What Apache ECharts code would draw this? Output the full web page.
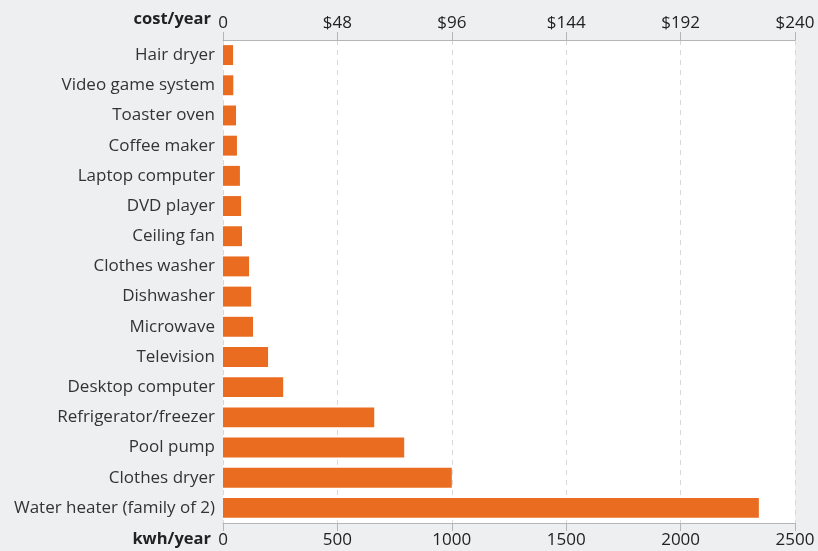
<!DOCTYPE html>
<html><head><meta charset="utf-8">
<script src="https://cdn.jsdelivr.net/npm/echarts@6/dist/echarts.min.js"></script>
<style>html,body{margin:0;padding:0;background:#eeeff1;}#c{width:818px;height:551px;}</style>
</head><body><div id="c"></div>
<script>
const categories = ["Hair dryer","Video game system","Toaster oven","Coffee maker","Laptop computer","DVD player","Ceiling fan","Clothes washer","Dishwasher","Microwave","Television","Desktop computer","Refrigerator/freezer","Pool pump","Clothes dryer","Water heater (family of 2)"];
const kwhValues = [44,45,57,61,74,79,83,114,123,131,197,263,661,792,1000,2342];
const kwhTicks = [0,500,1000,1500,2000,2500];
const costTicks = [0,48,96,144,192,240];
const axisTitles = ["cost/year","kwh/year"];

const chart = echarts.init(document.getElementById('c'));
const font = '"Open Sans", sans-serif';
chart.setOption({
  animation:false,
  backgroundColor:'#eeeff1',
  grid:{left:223,right:23,top:40,bottom:28,show:true,backgroundColor:'#ffffff',borderWidth:0,containLabel:false,outerBoundsMode:'none'},
  graphic:[
    {type:'text',right:818-211,top:11,style:{text:axisTitles[0],fill:'#222',font:'bold 16.5px "Open Sans", sans-serif',textAlign:'right'}},
    {type:'text',right:818-211,top:531,style:{text:axisTitles[1],fill:'#222',font:'bold 16.5px "Open Sans", sans-serif',textAlign:'right'}}
  ],
  xAxis:[{
    type:'value',position:'bottom',min:kwhTicks[0],max:kwhTicks[kwhTicks.length-1],interval:kwhTicks[1]-kwhTicks[0],
    axisLine:{show:true,lineStyle:{color:'#b5b5b5',width:1}},
    axisTick:{show:true,length:8,lineStyle:{color:'#b5b5b5'}},
    axisLabel:{color:'#222',fontSize:17,fontWeight:500,fontFamily:font,margin:9,formatter:v=>String(v)},
    splitLine:{show:true,lineStyle:{color:'#d8d8d8',type:[5,5],width:1}}
  },{
    type:'value',position:'top',min:costTicks[0],max:costTicks[costTicks.length-1],interval:costTicks[1]-costTicks[0],
    axisLine:{show:true,lineStyle:{color:'#b5b5b5',width:1}},
    axisTick:{show:true,length:8,lineStyle:{color:'#b5b5b5'}},
    axisLabel:{color:'#222',fontSize:17,fontWeight:500,fontFamily:font,margin:8,formatter:v=>v===0?'0':'$'+v},
    splitLine:{show:false}
  }],
  yAxis:{type:'category',data:categories,inverse:true,
    axisLine:{show:false},axisTick:{show:false},
    axisLabel:{color:'#333',fontSize:17,fontFamily:font,margin:8},
    splitLine:{show:false}},
  series:[{type:'bar',data:kwhValues,xAxisIndex:0,barCategoryGap:'34%',itemStyle:{color:'#ea6c20'}}]
});
</script></body></html>
